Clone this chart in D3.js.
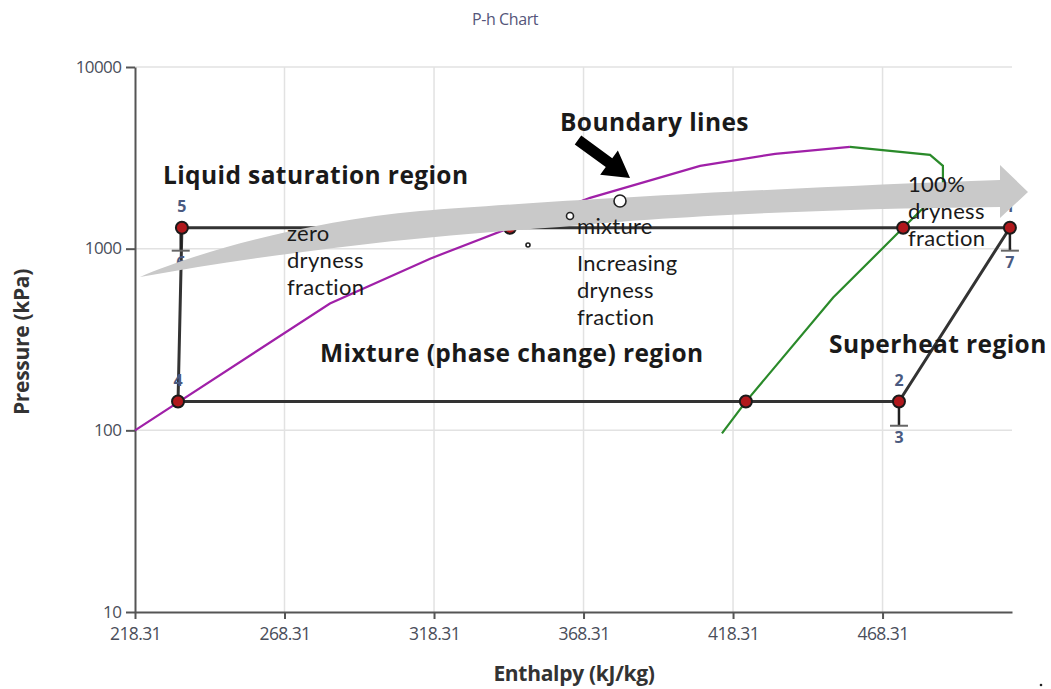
<!DOCTYPE html>
<html>
<head>
<meta charset="utf-8">
<script src="https://cdn.jsdelivr.net/npm/d3@7"></script>
<style>
  html, body { margin: 0; padding: 0; background: #fff; }
  svg { display: block; }
</style>
</head>
<body>
<svg id="chart" width="1051" height="689"></svg>
<script>
// Axis ticks
const enthalpyTicks = [218.31, 268.31, 318.31, 368.31, 418.31, 468.31];
const pressureTicks = [10, 100, 1000, 10000];

// Saturated liquid boundary (purple)
const liquidH = [218.31, 283.5, 317.0, 343.7, 370.5, 407.3, 432.4, 457.4];
const liquidP = [100, 499, 881, 1303, 1905, 2857, 3327, 3631];

// Saturated vapour boundary (green)
const vaporH = [457.4, 484.2, 488.5, 488.5, 475.2, 451.8, 422.6, 414.6];
const vaporP = [3631, 3282, 2857, 2138, 1303, 538, 144, 96.3];

// Refrigeration cycle outline: 5 -> 1 -> 2 -> 4 -> 5
const cycleH = [234.0, 510.9, 473.8, 232.7, 234.0];
const cycleP = [1303, 1303, 144, 144, 1303];

// Marked points on the cycle
const dotH = [234.0, 343.7, 475.2, 510.9, 232.7, 422.6, 473.8];
const dotP = [1303, 1303, 1303, 1303, 144, 144, 144];

// Labelled states
const stateLabels = ["5", "1", "4", "2"];
const stateH = [234.0, 510.9, 232.7, 473.8];
const stateP = [1303, 1303, 144, 144];

// Secondary states drawn as capped drops below a state
const dropLabels = ["6", "7", "3"];
const dropH = [233.6, 510.9, 473.8];
const dropFromP = [1303, 1303, 144];
const dropP = [975, 975, 106];

const svg = d3.select("#chart");
const plotLeft = 135, plotRight = 1012, plotTop = 67, plotBottom = 612;

const x = d3.scaleLinear().domain([218.31, 511.6]).range([plotLeft, plotRight]);
const y = d3.scaleLog().domain([10, 10000]).range([plotBottom, plotTop]);

// Title
svg.append("text")
  .attr("x", 505).attr("y", 25)
  .attr("text-anchor", "middle")
  .attr("font-family", "Open Sans, sans-serif")
  .attr("font-size", 16)
  .attr("letter-spacing", "-0.4")
  .attr("fill", "#55557a")
  .text("P-h Chart");

// Grid
const grid = svg.append("g");
grid.selectAll("line.v").data(enthalpyTicks.slice(1)).join("line")
  .attr("class", "v")
  .attr("x1", d => x(d)).attr("x2", d => x(d))
  .attr("y1", plotTop).attr("y2", plotBottom)
  .attr("stroke", "#e2e2e2").attr("stroke-width", 1.5);
grid.selectAll("line.h").data(pressureTicks.slice(1)).join("line")
  .attr("class", "h")
  .attr("x1", plotLeft).attr("x2", plotRight)
  .attr("y1", d => y(d)).attr("y2", d => y(d))
  .attr("stroke", "#e2e2e2").attr("stroke-width", 1.5);

// Axes
const xAxis = svg.append("g")
  .attr("transform", `translate(0,${plotBottom})`)
  .call(d3.axisBottom(x).tickValues(enthalpyTicks).tickFormat(d3.format(".2f")).tickSize(7).tickSizeOuter(0));
const yAxis = svg.append("g")
  .attr("transform", `translate(${plotLeft},0)`)
  .call(d3.axisLeft(y).tickValues(pressureTicks).tickFormat(d3.format("d")).tickSize(9).tickSizeOuter(0));
[xAxis, yAxis].forEach(a => {
  a.select(".domain").attr("stroke", "#555").attr("stroke-width", 2);
  a.selectAll(".tick line").attr("stroke", "#555").attr("stroke-width", 2);
  a.selectAll(".tick text")
    .attr("font-family", "Open Sans, sans-serif")
    .attr("font-size", 17)
    .attr("fill", "#4a4e5a")
    .attr("letter-spacing", "-0.6");
});
xAxis.selectAll(".tick text").attr("font-size", 17.5).attr("dy", "1.05em");
yAxis.selectAll(".tick text").attr("dx", "-0.1em").attr("dy", "0.3em");

// Axis titles
svg.append("text")
  .attr("x", 574).attr("y", 681)
  .attr("text-anchor", "middle")
  .attr("font-family", "Open Sans, sans-serif")
  .attr("font-weight", "bold")
  .attr("font-size", 21)
  .attr("letter-spacing", "-0.3")
  .attr("fill", "#333")
  .text("Enthalpy (kJ/kg)");
svg.append("text")
  .attr("transform", "translate(29,342) rotate(-90)")
  .attr("text-anchor", "middle")
  .attr("font-family", "Open Sans, sans-serif")
  .attr("font-weight", "bold")
  .attr("font-size", 21)
  .attr("letter-spacing", "-0.3")
  .attr("fill", "#333")
  .text("Pressure (kPa)");

// Boundary lines
const line = d3.line().x(d => x(d[0])).y(d => y(d[1]));
svg.append("path")
  .attr("d", line(d3.zip(liquidH, liquidP)))
  .attr("fill", "none").attr("stroke", "#a020a8").attr("stroke-width", 2.2);
svg.append("path")
  .attr("d", line(d3.zip(vaporH, vaporP)))
  .attr("fill", "none").attr("stroke", "#2a8a2a").attr("stroke-width", 2.2);

// Cycle outline
svg.append("path")
  .attr("d", line(d3.zip(cycleH, cycleP)))
  .attr("fill", "none").attr("stroke", "#333").attr("stroke-width", 3)
  .attr("stroke-linejoin", "round");

// Capped drops
const drops = svg.append("g");
dropLabels.forEach((lab, i) => {
  const cx = x(dropH[i]);
  drops.append("line")
    .attr("x1", cx).attr("x2", cx)
    .attr("y1", y(dropFromP[i])).attr("y2", y(dropP[i]))
    .attr("stroke", "#222").attr("stroke-width", 2.5);
  drops.append("line")
    .attr("x1", cx - 9).attr("x2", cx + 9)
    .attr("y1", y(dropP[i])).attr("y2", y(dropP[i]))
    .attr("stroke", "#666").attr("stroke-width", 2);
  drops.append("text")
    .attr("x", cx).attr("y", y(dropP[i]) + 17)
    .attr("text-anchor", "middle")
    .attr("font-family", "Open Sans, sans-serif")
    .attr("font-weight", "bold")
    .attr("font-size", 16)
    .attr("fill", "#4a5a80")
    .text(lab);
});

// State labels
svg.append("g").selectAll("text").data(stateLabels).join("text")
  .attr("x", (d, i) => x(stateH[i]))
  .attr("y", (d, i) => y(stateP[i]) - 16)
  .attr("text-anchor", "middle")
  .attr("font-family", "Open Sans, sans-serif")
  .attr("font-weight", "bold")
  .attr("font-size", 16)
  .attr("fill", "#4a5a80")
  .text(d => d);

// Points
svg.append("g").selectAll("circle").data(dotH).join("circle")
  .attr("cx", d => x(d))
  .attr("cy", (d, i) => y(dotP[i]))
  .attr("r", 6)
  .attr("fill", "#b0181c")
  .attr("stroke", "#1a1a1a").attr("stroke-width", 2);

// Wide grey arrow of increasing dryness
svg.append("path")
  .attr("d", "M140,277 C190,255 300,222 420,211 C560,200 800,187 1000,180 L1000,165 L1028,192 L1000,218 L1000,207 C800,209 650,218 560,227 C420,236 280,252 140,277 Z")
  .attr("fill", "#c9c9c9");

// Thought-bubble circles
const bubbles = [[528, 245, 2], [570, 216, 3.5], [620, 201, 6]];
svg.append("g").selectAll("circle").data(bubbles).join("circle")
  .attr("cx", d => d[0]).attr("cy", d => d[1]).attr("r", d => d[2])
  .attr("fill", "#fff").attr("stroke", "#222").attr("stroke-width", 1.6);

// Black pointer arrow toward the boundary line
(function () {
  const x0 = 578, y0 = 140, x1 = 630, y1 = 178;
  const dx = x1 - x0, dy = y1 - y0, L = Math.hypot(dx, dy);
  const ux = dx / L, uy = dy / L, nx = -uy, ny = ux;
  const hl = 26, sw = 5.5, hw = 15;
  const bx = x1 - ux * hl, by = y1 - uy * hl;
  const pts = [
    [x0 + nx * sw, y0 + ny * sw],
    [bx + nx * sw, by + ny * sw],
    [bx + nx * hw, by + ny * hw],
    [x1, y1],
    [bx - nx * hw, by - ny * hw],
    [bx - nx * sw, by - ny * sw],
    [x0 - nx * sw, y0 - ny * sw]
  ];
  svg.append("path").attr("d", "M" + pts.map(p => p.join(",")).join("L") + "Z").attr("fill", "#000");
})();

// Region annotations
const boldNotes = [
  ["Boundary lines", 560, 131],
  ["Liquid saturation region", 163, 184],
  ["Mixture (phase change) region", 320, 362],
  ["Superheat region", 829, 353]
];
svg.append("g").selectAll("text").data(boldNotes).join("text")
  .attr("x", d => d[1]).attr("y", d => d[2])
  .attr("font-family", "Open Sans, sans-serif")
  .attr("font-weight", "bold")
  .attr("font-size", 24.5)
  .attr("letter-spacing", "0.4")
  .attr("fill", "#1a1a1a")
  .text(d => d[0]);

const plainNotes = [
  [["zero", "dryness", "fraction"], 287, 241],
  [["mixture"], 577, 234],
  [["Increasing", "dryness", "fraction"], 577, 271],
  [["100%", "dryness", "fraction"], 908, 192]
];
const plain = svg.append("g");
plainNotes.forEach(([lines, px, py]) => {
  const t = plain.append("text")
    .attr("font-family", "Lato, sans-serif")
    .attr("font-size", 22)
    .attr("letter-spacing", "0.3")
    .attr("fill", "#1a1a1a");
  lines.forEach((s, i) => {
    t.append("tspan").attr("x", px).attr("y", py + i * 27).text(s);
  });
});

// Small dot near the bottom-right corner
svg.append("circle").attr("cx", 1041).attr("cy", 685).attr("r", 1.3).attr("fill", "#222");
</script>
</body>
</html>
